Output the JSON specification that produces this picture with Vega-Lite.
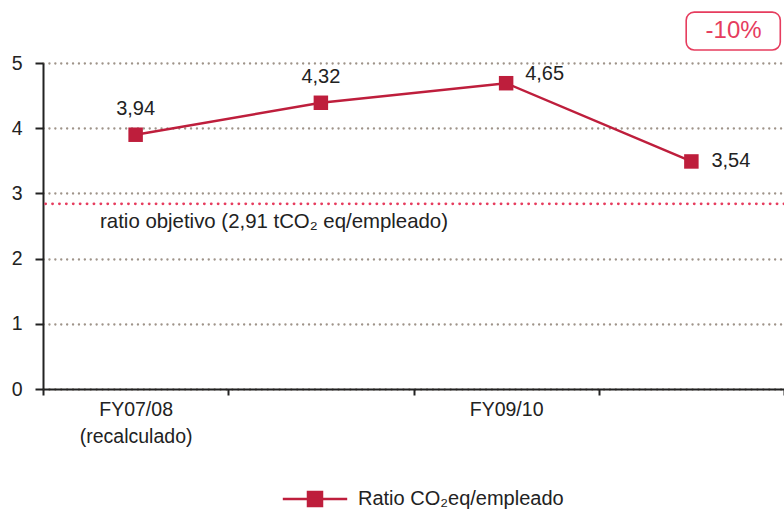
{
  "$schema": "https://vega.github.io/schema/vega-lite/v6.json",
  "width": 741,
  "height": 326,
  "autosize": {"type": "none"},
  "padding": {"left": 43, "top": 63, "right": 0, "bottom": 120},
  "background": "white",
  "config": {"view": {"stroke": null}, "font": "Liberation Sans"},
  "datasets": {
    "series": [
      {"period": "FY07/08", "value": 3.90, "label": "3,94"},
      {"period": "FY08/09", "value": 4.39, "label": "4,32"},
      {"period": "FY09/10", "value": 4.69, "label": "4,65"},
      {"period": "FY10/11", "value": 3.49, "label": "3,54"}
    ],
    "target": [{"value": 2.84, "label": "ratio objetivo (2,91 tCO₂ eq/empleado)"}],
    "badge": [{"text": "-10%"}]
  },
  "resolve": {"scale": {"x": "independent"}},
  "layer": [
    {
      "data": {"name": "series"},
      "encoding": {
        "x": {
          "field": "period",
          "type": "ordinal",
          "bandPosition": 0.5,
          "scale": {"type": "band", "paddingInner": 0, "paddingOuter": 0},
          "axis": {
            "title": null,
            "tickBand": "extent",
            "ticks": true,
            "tickSize": 6,
            "tickWidth": 2,
            "tickColor": "#222222",
            "domainColor": "#222222",
            "domainWidth": 2,
            "labelAngle": 0,
            "labelFontSize": 19.5,
            "labelColor": "#222222",
            "labelPadding": 5,
            "labelLineHeight": 27,
            "labelBaseline": "top",
            "labelExpr": "datum.value == 'FY07/08' ? ['FY07/08', '(recalculado)'] : (datum.value == 'FY09/10' ? 'FY09/10' : '')"
          }
        },
        "y": {
          "field": "value",
          "type": "quantitative",
          "scale": {"domain": [0, 5], "nice": false, "zero": true},
          "axis": {
            "title": null,
            "values": [0, 1, 2, 3, 4, 5],
            "format": "d",
            "grid": true,
            "gridColor": "#9f948a",
            "gridDash": [0.1, 5.8],
            "gridCap": "round",
            "gridWidth": 2.3,
            "tickSize": 8,
            "tickWidth": 2,
            "tickColor": "#222222",
            "domainColor": "#222222",
            "domainWidth": 2,
            "labelFontSize": 19.5,
            "labelColor": "#222222",
            "labelPadding": 13
          }
        }
      },
      "layer": [
        {
          "data": {"name": "target"},
          "mark": {"type": "rule", "color": "#e63c5e", "strokeWidth": 2.8, "strokeDash": [0.1, 6.8], "strokeCap": "round"},
          "encoding": {"y": {"field": "value", "type": "quantitative"}, "x": null}
        },
        {
          "mark": {"type": "line", "strokeWidth": 2.5},
          "encoding": {
            "color": {
              "datum": "Ratio CO₂eq/empleado",
              "scale": {"range": ["#be1e3c"]},
              "legend": {
                "title": null,
                "orient": "none",
                "legendX": 262,
                "legendY": 426,
                "symbolType": "M-4.6,0H4.6M-1,-1H1V1H-1Z",
                "symbolSize": 196,
                "symbolStrokeWidth": 2.5,
                "symbolFillColor": "#be1e3c",
                "symbolStrokeColor": "#be1e3c",
                "labelFontSize": 20,
                "labelColor": "#222222",
                "labelOffset": 33,
                "labelLimit": 400,
                "padding": 0
              }
            }
          }
        },
        {
          "mark": {"type": "point", "shape": "square", "filled": true, "size": 210, "opacity": 1, "color": "#be1e3c"}
        },
        {
          "transform": [{"filter": "datum.period == 'FY07/08' || datum.period == 'FY08/09'"}],
          "mark": {"type": "text", "fontSize": 20, "color": "#222222", "dy": -26, "baseline": "middle"},
          "encoding": {"text": {"field": "label"}}
        },
        {
          "transform": [{"filter": "datum.period == 'FY09/10'"}],
          "mark": {"type": "text", "fontSize": 20, "color": "#222222", "dx": 19, "dy": -9, "align": "left", "baseline": "middle"},
          "encoding": {"text": {"field": "label"}}
        },
        {
          "transform": [{"filter": "datum.period == 'FY10/11'"}],
          "mark": {"type": "text", "fontSize": 20, "color": "#222222", "dx": 20, "dy": 0, "align": "left", "baseline": "middle"},
          "encoding": {"text": {"field": "label"}}
        }
      ]
    },
    {
      "layer": [
        {
          "data": {"name": "target"},
          "mark": {"type": "text", "fontSize": 20.4, "color": "#222222", "align": "left", "baseline": "middle", "dy": 18},
          "encoding": {
            "x": {"datum": 0.077, "type": "quantitative", "scale": {"domain": [0, 1], "nice": false, "zero": false}, "axis": null},
            "y": {"field": "value", "type": "quantitative"},
            "text": {"field": "label"}
          }
        },
        {
          "data": {"name": "badge"},
          "mark": {"type": "rect", "fill": "white", "stroke": "#e63c5e", "strokeWidth": 1.6, "cornerRadius": 8},
          "encoding": {
            "x": {"datum": 0.868, "type": "quantitative", "scale": {"domain": [0, 1], "nice": false, "zero": false}, "axis": null},
            "x2": {"datum": 0.995},
            "y": {"datum": 5.2, "type": "quantitative"},
            "y2": {"datum": 5.78}
          }
        },
        {
          "data": {"name": "badge"},
          "mark": {"type": "text", "fontSize": 24, "color": "#e63c5e", "align": "center", "baseline": "middle"},
          "encoding": {
            "x": {"datum": 0.932, "type": "quantitative", "scale": {"domain": [0, 1], "nice": false, "zero": false}, "axis": null},
            "y": {"datum": 5.49, "type": "quantitative"},
            "text": {"field": "text"}
          }
        }
      ]
    }
  ]
}
